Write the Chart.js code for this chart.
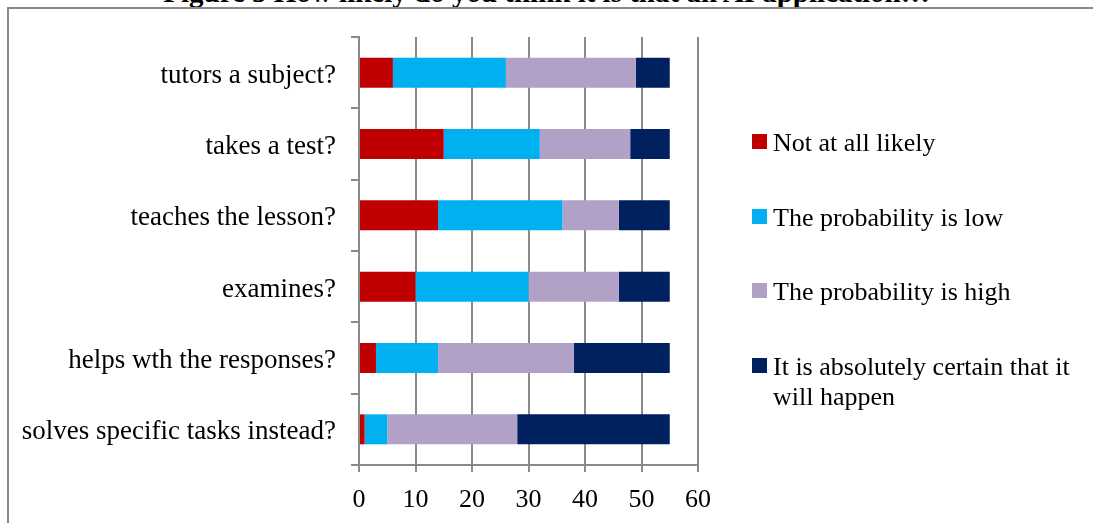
<!DOCTYPE html>
<html>
<head>
<meta charset="utf-8">
<script src="https://cdn.jsdelivr.net/npm/chart.js@4.4.1/dist/chart.umd.min.js"></script>
<style>
  html, body { margin: 0; padding: 0; background: #fff; }
  #wrap { position: relative; width: 1093px; height: 523px; overflow: hidden; background: #fff; }
  #frame { position: absolute; left: 7px; top: 7px; width: 1200px; height: 600px;
           border-left: 2px solid #8a8a8a; border-top: 2px solid #8a8a8a; box-sizing: border-box; }
  #title { position: absolute; left: 0; width: 1093px; top: -22px; text-align: center;
           font: bold 29px/29px "Liberation Serif", "Times New Roman", serif; color: #000; }
  #chart { position: absolute; left: 0; top: 0; }
  #legend { position: absolute; left: 752px; top: 128px; font: 26px/30px "Liberation Serif", "Times New Roman", serif; color: #000; }
  .item { position: absolute; left: 0; display: flex; align-items: flex-start; }
  .box { width: 15px; height: 15px; margin-top: 6px; margin-right: 6px; flex: none; }
  .txt { width: 315px; }
</style>
</head>
<body>
<div id="wrap">
  <div id="title">Figure 5 How likely do you think it is that an AI application…</div>
  <div id="frame"></div>
  <canvas id="chart" width="1093" height="523"></canvas>
  <div id="legend"></div>
</div>
<script>
// Survey items (top to bottom)
const categories = [
  'tutors a subject?',
  'takes a test?',
  'teaches the lesson?',
  'examines?',
  'helps wth the responses?',
  'solves specific tasks instead?'
];

// Answer options
const seriesNames = [
  'Not at all likely',
  'The probability is low',
  'The probability is high',
  'It is absolutely certain that it will happen'
];
const seriesColors = ['#C00000', '#00B0F0', '#B2A1C7', '#002060'];

// Number of respondents per answer, one array per option
const notAtAll     = [6, 15, 14, 10, 3, 1];
const lowProb      = [20, 17, 22, 20, 11, 4];
const highProb     = [23, 16, 10, 16, 24, 23];
const certain      = [6, 7, 9, 9, 17, 27];

// Value axis ticks
const xTicks = [0, 10, 20, 30, 40, 50, 60];

const seriesValues = [notAtAll, lowProb, highProb, certain];
const serif = '"Liberation Serif", "Times New Roman", serif';
const gridGray = '#8a8a8a';

const ctx = document.getElementById('chart');
new Chart(ctx, {
  type: 'bar',
  data: {
    labels: categories,
    datasets: seriesNames.map((name, i) => ({
      label: name,
      data: seriesValues[i],
      backgroundColor: seriesColors[i],
      borderWidth: 0,
      barPercentage: 0.42,
      categoryPercentage: 1
    }))
  },
  options: {
    indexAxis: 'y',
    responsive: false,
    animation: false,
    devicePixelRatio: 1,
    layout: { padding: { left: 9, top: 37, right: 395, bottom: 0 } },
    plugins: { legend: { display: false }, tooltip: { enabled: false }, title: { display: false } },
    scales: {
      x: {
        stacked: true,
        min: xTicks[0],
        max: xTicks[xTicks.length - 1],
        afterBuildTicks: (scale) => { scale.ticks = xTicks.map(v => ({ value: v })); },
        afterFit: (scale) => { scale.height = 58; },
        ticks: { color: '#000', font: { family: serif, size: 26 }, padding: 13, maxRotation: 0 },
        grid: { color: gridGray, lineWidth: 2, drawTicks: true, tickLength: 7, tickColor: gridGray },
        border: { display: true, color: gridGray, width: 2 }
      },
      y: {
        stacked: true,
        afterFit: (scale) => { scale.width = 350; },
        ticks: { color: '#000', font: { family: serif, size: 27 }, padding: 15, labelOffset: 3 },
        grid: { drawOnChartArea: false, drawTicks: true, tickLength: 8, color: gridGray, lineWidth: 2, offset: true },
        border: { display: true, color: gridGray, width: 2 }
      }
    }
  }
});

// Legend built from the same series names and colours
const legend = document.getElementById('legend');
const legendSpacing = 74.5;
seriesNames.forEach((name, i) => {
  const item = document.createElement('div');
  item.className = 'item';
  item.style.top = (i * legendSpacing) + 'px';
  const box = document.createElement('div');
  box.className = 'box';
  box.style.background = seriesColors[i];
  const txt = document.createElement('div');
  txt.className = 'txt';
  txt.textContent = name;
  item.appendChild(box);
  item.appendChild(txt);
  legend.appendChild(item);
});
</script>
</body>
</html>
